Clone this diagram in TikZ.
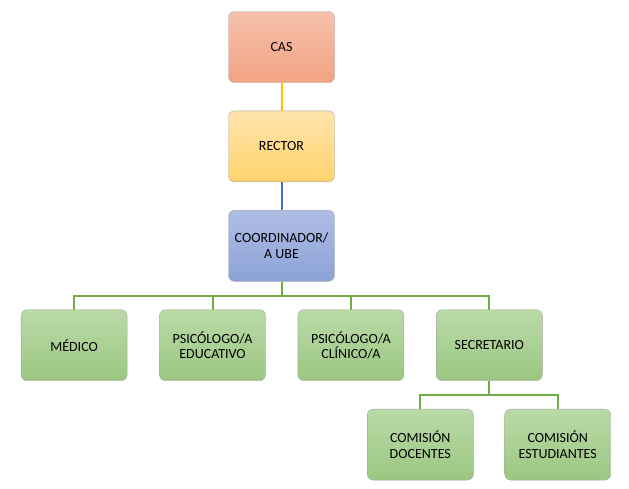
\documentclass[tikz,border=0pt]{standalone}
\usepackage{fontspec}
\setmainfont{Carlito}
\usetikzlibrary{positioning,calc}
\definecolor{casTop}{HTML}{F6C0AC}
\definecolor{casBot}{HTML}{F2A383}
\definecolor{recTop}{HTML}{FFE4AC}
\definecolor{recBot}{HTML}{FFD36C}
\definecolor{cooTop}{HTML}{AEBDE4}
\definecolor{cooBot}{HTML}{8CA2D8}
\definecolor{grnTop}{HTML}{BADAA8}
\definecolor{grnBot}{HTML}{9BC781}
\definecolor{lnYellow}{HTML}{FFC000}
\definecolor{lnBlue}{HTML}{4472C4}
\definecolor{lnGreen}{HTML}{70AD47}
\tikzset{
box/.style={ rectangle, rounded corners=6pt, draw=black!35, thin, minimum width=106pt, minimum height=71pt, align=center, text=black, font=\fontsize{14}{15.5}\selectfont},
casbox/.style={box, top color=casTop, bottom color=casBot},
recbox/.style={box, top color=recTop, bottom color=recBot},
coobox/.style={box, top color=cooTop, bottom color=cooBot},
unitbox/.style={box, top color=grnTop, bottom color=grnBot},
yline/.style={color=lnYellow, line width=2pt},
bline/.style={color=lnBlue, line width=2pt},
gline/.style={color=lnGreen, line width=2pt},
}
\begin{document}
\begin{tikzpicture}
[x=1pt, y=1pt, node distance=28pt and 32pt]
\useasboundingbox (0,0) rectangle (629,-488);

\node[casbox] (cas) at (281.5,-47) {CAS};
\node[recbox, below=of cas] (rector) {RECTOR};
\node[coobox, below=of rector] (coord) {COORDINADOR/\\A UBE};

% fila de unidades
\node[unitbox, below=of coord, xshift=-69pt] (psiedu) {PSICÓLOGO/A\\EDUCATIVO};
\node[unitbox, left=of psiedu] (medico) {MÉDICO};
\node[unitbox, right=of psiedu] (psicli) {PSICÓLOGO/A\\CLÍNICO/A};
\node[unitbox, right=of psicli] (secre) {SECRETARIO};

% comisiones
\node[unitbox, below=28pt of secre, xshift=-69pt] (comdoc) {COMISIÓN\\DOCENTES};
\node[unitbox, right=31pt of comdoc] (comest) {COMISIÓN\\ESTUDIANTES};

\draw [yline] (cas) -- (rector);
\draw [bline] (rector) -- (coord);
\foreach \n in {medico,psiedu,psicli,secre}
  \draw [gline] (coord.south) -- ++(0,-14pt) -| (\n.north);
\foreach \n in {comdoc,comest}
  \draw [gline] (secre.south) -- ++(0,-14pt) -| (\n.north);

\end{tikzpicture}
\end{document}
